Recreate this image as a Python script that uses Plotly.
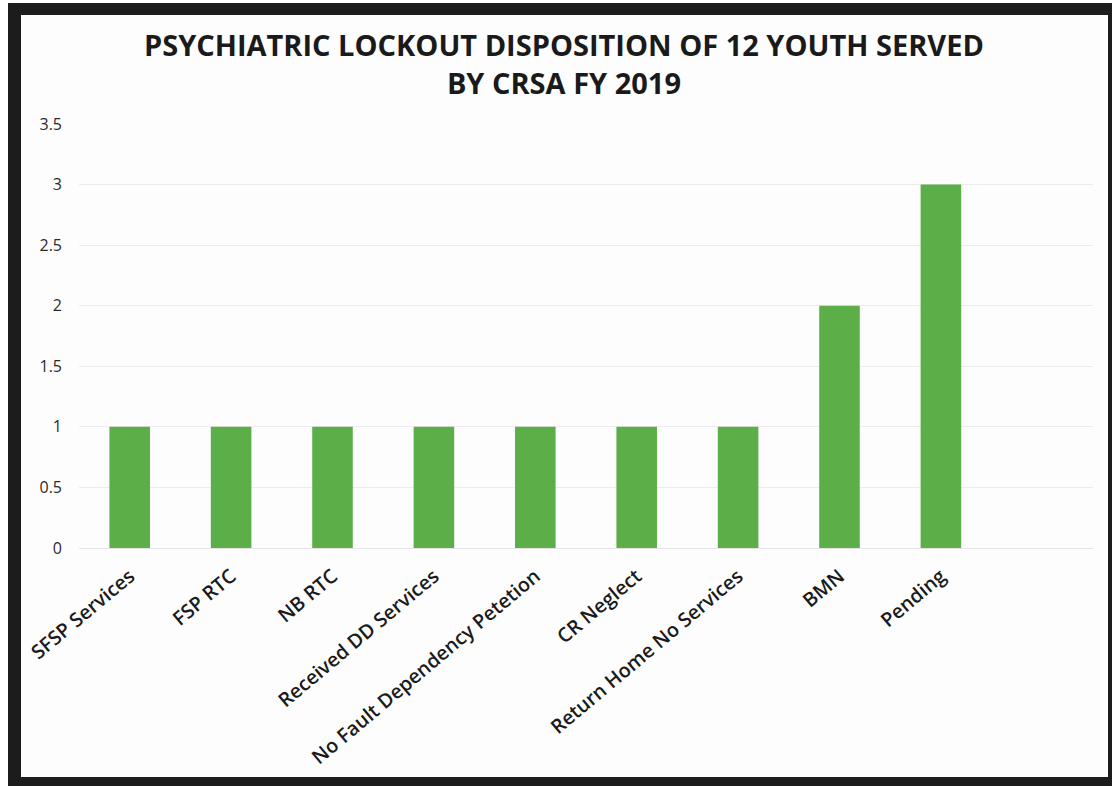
import plotly.graph_objects as go

# Disposition counts
categories = [
    "SFSP Services",
    "FSP RTC",
    "NB RTC",
    "Received DD Services",
    "No Fault Dependency Petetion",
    "CR Neglect",
    "Return Home No Services",
    "BMN",
    "Pending",
]
youth_counts = [1, 1, 1, 1, 1, 1, 1, 2, 3]
y_ticks = [0, 0.5, 1, 1.5, 2, 2.5, 3, 3.5]
y_tick_text = ["0", "0.5", "1", "1.5", "2", "2.5", "3", "3.5"]
title_lines = [
    "PSYCHIATRIC LOCKOUT DISPOSITION OF 12 YOUTH SERVED",
    "BY CRSA FY 2019",
]

W, H = 1112, 786
ML, MR, MT, MB = 79, 19, 124, 238
PW, PH = W - ML - MR, H - MT - MB


def px_x(px):
    return (px - ML) / PW


def px_y(py):
    return (H - MB - py) / PH


fig = go.Figure(
    go.Bar(
        x=list(range(len(categories))),
        y=youth_counts,
        width=0.4,
        marker=dict(color="#5cae48", line=dict(width=0)),
        hoverinfo="x+y",
    )
)

# dark frame around the chart card
shapes = [
    dict(type="rect", xref="paper", yref="paper", layer="below",
         x0=px_x(8), x1=px_x(1125), y0=px_y(800), y1=px_y(3),
         fillcolor="#1c1c1c", line=dict(width=0)),
    dict(type="rect", xref="paper", yref="paper", layer="below",
         x0=px_x(21), x1=px_x(1108), y0=px_y(777), y1=px_y(15),
         fillcolor="#fdfdfd", line=dict(width=0)),
]

title_font = dict(family="Open Sans", size=29, color="#1a1a1a")
annotations = [
    dict(text="<b>" + "<br>".join(title_lines) + "</b>",
         xref="paper", yref="paper",
         x=px_x(564), y=px_y(64), xanchor="center", yanchor="middle",
         align="center", showarrow=False, font=title_font),
]

fig.update_layout(
    width=W,
    height=H,
    margin=dict(l=ML, r=MR, t=MT, b=MB),
    paper_bgcolor="#ffffff",
    plot_bgcolor="rgba(0,0,0,0)",
    shapes=shapes,
    annotations=annotations,
    showlegend=False,
    bargap=0.6,
)

fig.update_xaxes(
    range=[-0.5, 9.5],
    tickmode="array",
    tickvals=list(range(len(categories))),
    ticktext=categories,
    tickangle=-40,
    tickfont=dict(family="Open Sans", size=19.8, color="#1a1a1a", weight=600),
    showgrid=False,
    zeroline=False,
    showline=True,
    linecolor="#e6e6e6",
    linewidth=1,
    ticks="",
    ticklabelstandoff=8,
)

fig.update_yaxes(
    range=[0, 3.5],
    tickmode="array",
    tickvals=y_ticks,
    ticktext=y_tick_text,
    tickfont=dict(family="Open Sans", size=16, color="#2a2a2a"),
    showgrid=True,
    gridcolor="#ececec",
    gridwidth=1,
    zeroline=False,
    ticks="",
    ticklabelstandoff=16,
)

fig.write_html("out.html")
